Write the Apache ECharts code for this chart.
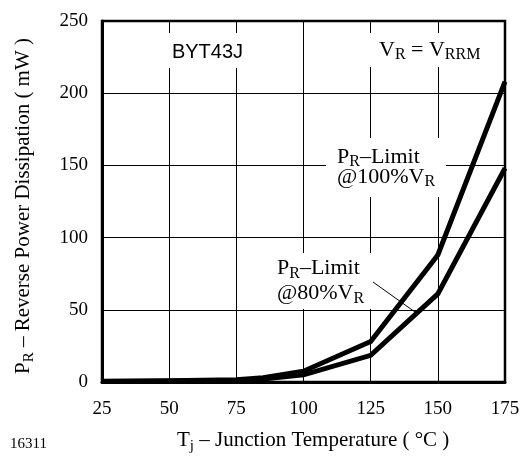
<!DOCTYPE html>
<html>
<head>
<meta charset="utf-8">
<script src="https://cdn.jsdelivr.net/npm/echarts@6/dist/echarts.min.js"></script>
<style>
html,body{margin:0;padding:0;background:#fff;}
#c{width:528px;height:457px;}
</style>
</head>
<body>
<div id="c"></div>
<script>
// Data
const temps = [25, 50, 75, 85, 100, 125, 150, 175];
const p100 = [0.5, 0.8, 1.5, 3, 7.5, 28, 88, 208];
const p80 = [0.4, 0.6, 1.2, 2, 5, 18.5, 61, 148];
const xTicks = [25, 50, 75, 100, 125, 150, 175];
const yTicks = [0, 50, 100, 150, 200, 250];

const SERIF = '"Liberation Serif", "Times New Roman", serif';
const SANS = '"Liberation Sans", Arial, sans-serif';

function pairs(xs, ys) { return xs.map((x, i) => [x, ys[i]]); }

function makeRich(main, sub, subLH) {
  return {
    a: { fontFamily: SERIF, fontSize: main, lineHeight: main, verticalAlign: 'top', fill: '#000' },
    s: { fontFamily: SERIF, fontSize: sub, lineHeight: subLH, verticalAlign: 'bottom', fill: '#000' }
  };
}
const richAnn = makeRich(22, 16, 24);
const richTitle = makeRich(21, 15, 24);

function rtext(x, y, text, rich, align, extra) {
  return Object.assign({
    type: 'text', x: x, y: y, z: 10,
    style: { text: text, rich: rich, textAlign: align || 'left', textVerticalAlign: 'middle', fill: '#000' }
  }, extra || {});
}

function whiteRect(x, y, w, h) {
  return { type: 'rect', z: 1, shape: { x: x, y: y, width: w, height: h }, style: { fill: '#fff' } };
}

const chart = echarts.init(document.getElementById('c'), null, { renderer: 'canvas' });

chart.setOption({
  animation: false,
  backgroundColor: '#fff',
  grid: { left: 102, right: 23, top: 21, bottom: 75, show: true, borderColor: '#000', borderWidth: 2.5, backgroundColor: 'transparent' },
  xAxis: {
    type: 'value', min: 25, max: 175, interval: 25,
    axisLine: { show: true, lineStyle: { color: '#000', width: 3 } },
    axisTick: { show: false },
    splitLine: { show: true, lineStyle: { color: '#000', width: 1 } },
    axisLabel: { color: '#000', fontFamily: SERIF, fontSize: 19, margin: 18,
      formatter: v => xTicks.includes(v) ? String(v) : '' }
  },
  yAxis: {
    type: 'value', min: 0, max: 250, interval: 50,
    axisLine: { show: true, lineStyle: { color: '#000', width: 3 } },
    axisTick: { show: false },
    splitLine: { show: true, lineStyle: { color: '#000', width: 1 } },
    axisLabel: { color: '#000', fontFamily: SERIF, fontSize: 19, margin: 14,
      formatter: v => yTicks.includes(v) ? String(v) : '' }
  },
  series: [
    { type: 'line', data: pairs(temps, p100), showSymbol: false, symbol: 'none', z: 3,
      lineStyle: { color: '#000', width: 5, join: 'miter' } },
    { type: 'line', data: pairs(temps, p80), showSymbol: false, symbol: 'none', z: 3,
      lineStyle: { color: '#000', width: 5, join: 'miter' } }
  ],
  graphic: [
    whiteRect(150, 33, 110, 35),
    whiteRect(356, 33, 140, 34),
    whiteRect(326, 138, 120, 59),
    whiteRect(265, 253, 110, 56),
    { type: 'text', x: 207.5, y: 52, z: 10,
      style: { text: 'BYT43J', font: '20px ' + SANS, fill: '#000', textAlign: 'center', textVerticalAlign: 'middle' } },
    rtext(379, 51, '{a|V}{s|R}{a| = V}{s|RRM}', richAnn),
    rtext(337, 158, '{a|P}{s|R}{a|–Limit}', richAnn),
    rtext(337, 178, '{a|@100%V}{s|R}', richAnn),
    rtext(277, 269.5, '{a|P}{s|R}{a|–Limit}', richAnn),
    rtext(277, 294.5, '{a|@80%V}{s|R}', richAnn),
    { type: 'line', z: 10, shape: { x1: 373, y1: 282, x2: 415, y2: 312 }, style: { stroke: '#000', lineWidth: 1 } },
    rtext(25, 206, '{a|P}{s|R}{a| – Reverse Power Dissipation ( mW )}', richTitle, 'center', { rotation: Math.PI / 2 }),
    rtext(177, 442, '{a|T}{s|j}{a| – Junction Temperature ( °C )}', richTitle),
    { type: 'text', x: 10, y: 444, z: 10,
      style: { text: '16311', font: '15px ' + SERIF, fill: '#000', textAlign: 'left', textVerticalAlign: 'middle' } }
  ]
});
</script>
</body>
</html>
